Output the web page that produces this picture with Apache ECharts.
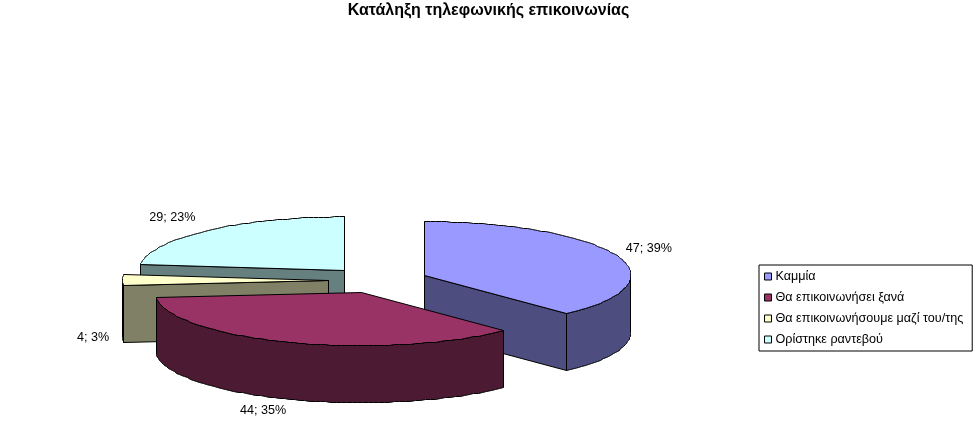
<!DOCTYPE html>
<html><head><meta charset="utf-8">
<style>html,body{margin:0;padding:0;background:#fff}#c{width:977px;height:440px}</style>
<script src="https://cdn.jsdelivr.net/npm/echarts@6/dist/echarts.min.js"></script>
</head><body><div id="c"></div>
<script>
const titleText = 'Κατάληξη τηλεφωνικής επικοινωνίας';
const categories = ['Καμμία', 'Θα επικοινωνήσει ξανά', 'Θα επικοινωνήσουμε μαζί του/της', 'Ορίστηκε ραντεβού'];
const values = [47, 44, 4, 29];
const percents = [39, 35, 3, 23];
const colors = ['#9999FF', '#993366', '#FFFFCC', '#CCFFFF'];
const sideColors = ['#4D4D80', '#4D1A33', '#808066', '#668080'];
const paintOrder = [2, 3, 1, 0]; // z per category: back to front

const pie = { cx: 378, cy: 279.5, rx: 206, ry: 53.5, explode: 50, depth: 57 };
const labelNudge = [[33, -6], [-26, 12], [-29, 1], [-34, -13]];
const total = values.reduce((a, b) => a + b, 0);
const rad = d => d * Math.PI / 180;
const snap = p => [Math.round(p[0]) + 0.5, Math.round(p[1]) + 0.5];

function renderSlice(idx) {
  return function (params, api) {
    const value = api.value(0);
    const before = values.slice(0, idx).reduce((a, b) => a + b, 0);
    const a0 = before / total * 360, a1 = a0 + value / total * 360, mid = (a0 + a1) / 2;
    const k = pie.ry / pie.rx;
    const ax = pie.cx + pie.explode * Math.sin(rad(mid));
    const ay = pie.cy - pie.explode * k * Math.cos(rad(mid));
    const rim = (a, dz) => [ax + pie.rx * Math.sin(rad(a)), ay - pie.ry * Math.cos(rad(a)) + dz];
    const arc = (s, e, dz) => {
      const n = Math.max(2, Math.ceil((e - s) / 1.5)), out = [];
      for (let i = 0; i <= n; i++) out.push(rim(s + (e - s) * i / n, dz));
      return out;
    };
    const face = (pts, fill) => ({
      type: 'polygon', shape: { points: pts.map(snap) },
      style: { fill: fill, stroke: '#000', lineWidth: 1 }
    });
    const apexTop = [ax, ay], apexBot = [ax, ay + pie.depth];
    const side = sideColors[idx], children = [];
    if (Math.sin(rad(a0)) <= 1e-6)
      children.push(face([apexTop, rim(a0, 0), rim(a0, pie.depth), apexBot], side));
    if (Math.sin(rad(a1)) >= -1e-6)
      children.push(face([apexTop, rim(a1, 0), rim(a1, pie.depth), apexBot], side));
    const f0 = Math.max(a0, 90), f1 = Math.min(a1, 270);
    if (f1 > f0)
      children.push(face(arc(f0, f1, 0).concat(arc(f0, f1, pie.depth).reverse()), side));
    children.push(face([apexTop].concat(arc(a0, a1, 0)), colors[idx]));
    const front = Math.cos(rad(mid)) < 1e-6;
    const anchor = rim(mid, front ? pie.depth : 0);
    children.push({
      type: 'text', z2: 50,
      style: {
        x: anchor[0] + labelNudge[idx][0], y: anchor[1] + labelNudge[idx][1],
        text: value + '; ' + percents[idx] + '%',
        fill: '#000', font: '12.6px "Liberation Sans", Arial, sans-serif',
        align: 'center', verticalAlign: 'middle'
      }
    });
    return { type: 'group', children: children };
  };
}

const chart = echarts.init(document.getElementById('c'), null, { renderer: 'canvas' });
chart.setOption({
  animation: false,
  backgroundColor: '#fff',
  title: {
    text: titleText, left: 'center', top: 0, padding: [3, 5, 5, 3],
    textStyle: { fontFamily: '"Liberation Sans", Arial, sans-serif', fontSize: 16, fontWeight: 'bold', color: '#000' }
  },
  legend: {
    orient: 'vertical', left: 759, top: 265, padding: [5, 9, 5, 5],
    itemWidth: 7, itemHeight: 7, itemGap: 8,
    icon: 'rect', borderColor: '#000', borderWidth: 1, backgroundColor: '#fff',
    itemStyle: { borderColor: '#000', borderWidth: 1 },
    textStyle: { fontFamily: '"Liberation Sans", Arial, sans-serif', fontSize: 12.6, color: '#000', padding: [0, 0, 0, -1] },
    data: categories
  },
  series: categories.map((name, i) => ({
    type: 'custom', name: name, coordinateSystem: 'none',
    z: paintOrder[i] + 2, silent: true,
    itemStyle: { color: colors[i] },
    data: [[values[i]]],
    renderItem: renderSlice(i)
  }))
});
</script></body></html>
